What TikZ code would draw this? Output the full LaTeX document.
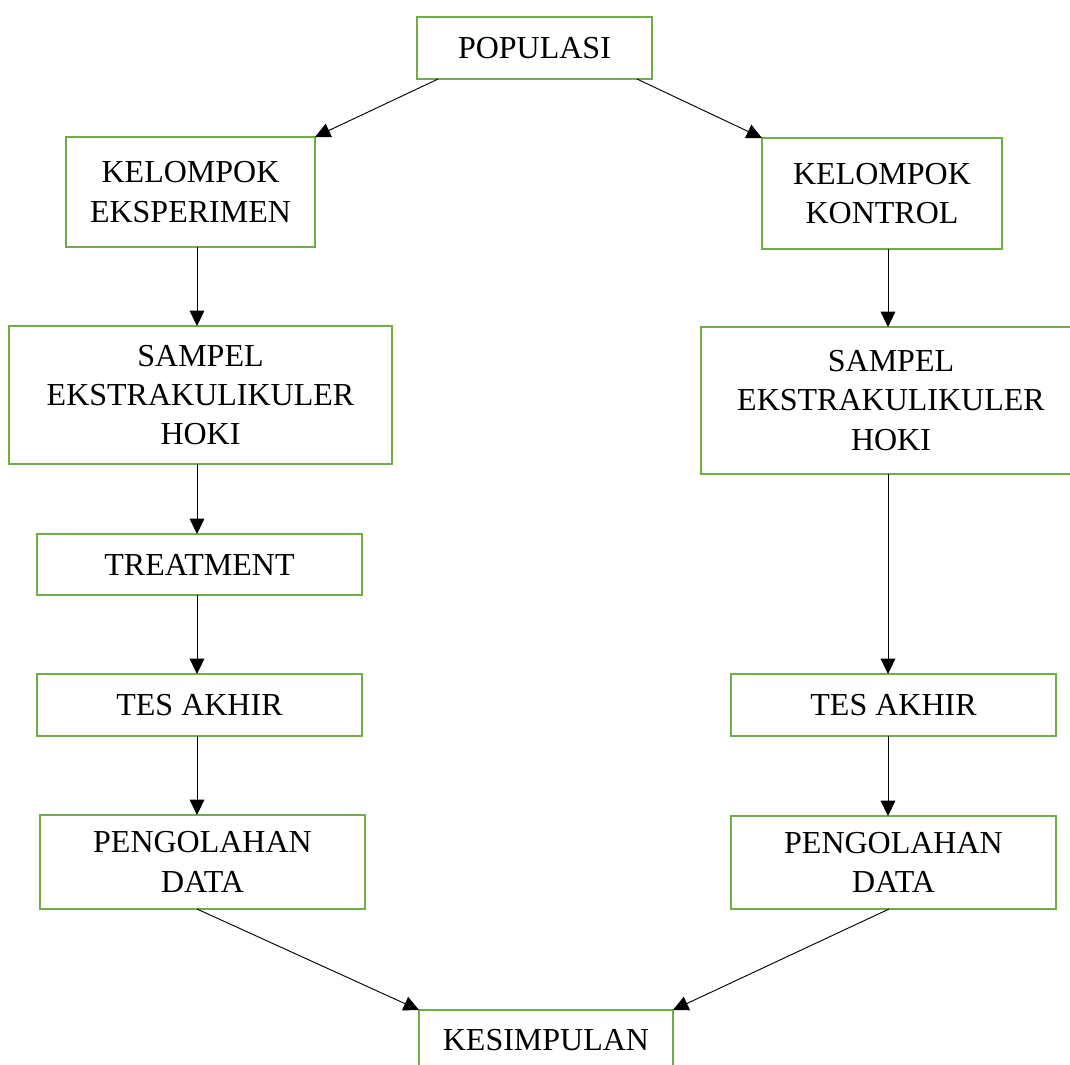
\documentclass[tikz,border=0pt]{standalone}
\usepackage{fontspec}
\setmainfont{Liberation Serif}
\usetikzlibrary{arrows.meta,calc}
\definecolor{boxgreen}{RGB}{112,173,71}
\begin{document}
\begin{tikzpicture}[x=0.75pt,y=-0.75pt,
  boxst/.style={draw=boxgreen, line width=1.5pt, fill=white, inner sep=0pt, outer sep=0pt,
    align=center, font=\fontsize{24}{29.5}\selectfont},
  conn/.style={draw=black, line width=0.7pt, -{Triangle[length=11.5pt,width=11pt]}}]
\useasboundingbox (0,0) rectangle (1070,1064);
\node[boxst, minimum width=235*0.75pt, minimum height=62*0.75pt] (pop) at (534.5,48) {POPULASI};
\node[boxst, minimum width=249*0.75pt, minimum height=110*0.75pt] (kE) at (190.5,192) {KELOMPOK\\EKSPERIMEN};
\node[boxst, minimum width=240*0.75pt, minimum height=111*0.75pt] (kK) at (882,193.5) {KELOMPOK\\KONTROL};
\node[boxst, minimum width=383*0.75pt, minimum height=138*0.75pt] (sL) at (200.5,395) {SAMPEL\\EKSTRAKULIKULER\\HOKI};
\node[boxst, minimum width=380*0.75pt, minimum height=147*0.75pt] (sR) at (891,400.5) {SAMPEL\\EKSTRAKULIKULER\\HOKI};
\node[boxst, minimum width=325*0.75pt, minimum height=61*0.75pt] (tr) at (199.5,564.5) {TREATMENT};
\node[boxst, minimum width=325*0.75pt, minimum height=62*0.75pt] (tL) at (199.5,705) {TES AKHIR};
\node[boxst, minimum width=325*0.75pt, minimum height=62*0.75pt] (tR) at (893.5,705) {TES AKHIR};
\node[boxst, minimum width=325*0.75pt, minimum height=94*0.75pt] (pL) at (202.5,862) {PENGOLAHAN\\DATA};
\node[boxst, minimum width=325*0.75pt, minimum height=93*0.75pt] (pR) at (893.5,862.5) {PENGOLAHAN\\DATA};
\node[boxst, minimum width=254*0.75pt, minimum height=60*0.75pt] (kes) at (546,1040) {KESIMPULAN};
\coordinate (xl) at (197,0);
\coordinate (xr) at (888,0);
\coordinate (popL) at ($(pop.south west)!0.09!(pop.south east)$);
\coordinate (popR) at ($(pop.south west)!0.936!(pop.south east)$);
\coordinate (pLs) at (197,909);
\coordinate (pRs) at (889,909);
\draw[conn] (popL) -- (kE.north east);
\draw[conn] (popR) -- (kK.north west);
\draw[conn] (kE.south -| xl) -- (sL.north -| xl);
\draw[conn] (sL.south -| xl) -- (tr.north -| xl);
\draw[conn] (tr.south -| xl) -- (tL.north -| xl);
\draw[conn] (tL.south -| xl) -- (pL.north -| xl);
\draw[conn] (kK.south -| xr) -- (sR.north -| xr);
\draw[conn] (sR.south -| xr) -- (tR.north -| xr);
\draw[conn] (tR.south -| xr) -- (pR.north -| xr);
\draw[conn] (pL.south -| pLs) -- (kes.north west);
\draw[conn] (pR.south -| pRs) -- (kes.north east);
\end{tikzpicture}
\end{document}
